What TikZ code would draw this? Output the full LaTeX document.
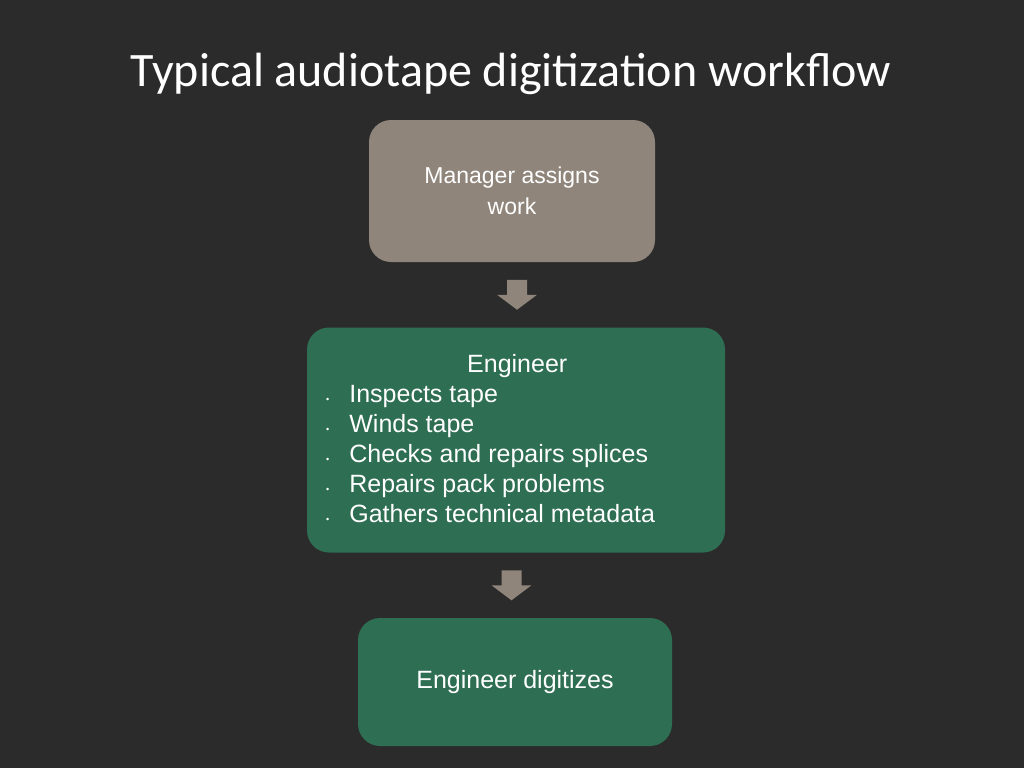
\documentclass[tikz,border=0pt]{standalone}
\usepackage{fontspec}
\setmainfont{Liberation Sans}
\newfontfamily\titlefont{Carlito}
\usetikzlibrary{calc}
\definecolor{bgdark}{HTML}{2B2B2B}
\definecolor{taupe}{HTML}{8F857B}
\definecolor{boxgreen}{HTML}{2E6E52}
\tikzset{
  stepbox/.style={rounded corners=22pt, text=white, align=center, font=\fontsize{25}{31}\selectfont},
  blockarr/.style={fill=taupe, draw=none}
}
\newcommand{\blockdown}[1]{%
  \fill[blockarr] ($(#1)+(-10,-15)$) -- ($(#1)+(10,-15)$) -- ($(#1)+(10,0)$) -- ($(#1)+(20,0)$)
    -- ($(#1)+(0,15)$) -- ($(#1)+(-20,0)$) -- ($(#1)+(-10,0)$) -- cycle;}
\begin{document}
\begin{tikzpicture}[x=1pt,y=-1pt]

		\fill[bgdark] (0,0) rectangle (1024,768);
		\useasboundingbox (0,0) rectangle (1024,768);

		\node[text=white, font=\titlefont\fontsize{48}{56}\selectfont] (title) at (511,74) {Typical audiotape digitization workflow};

		\node[stepbox, fill=taupe, minimum width=286pt, minimum height=142pt, font=\fontsize{23}{31}\selectfont] (manager) at (512,191) {Manager assigns\\work};

		\node[stepbox, fill=boxgreen, minimum width=418pt, minimum height=225pt] (inspect) at (516,440) {};
		\node[text=white, font=\fontsize{25}{31}\selectfont, anchor=north west, inner sep=0pt] (items) at (326,351)
		  {\begin{tabular}{@{}l@{\hspace{20pt}}l@{}}
		   \multicolumn{2}{@{}l@{}}{\hspace{141pt}Engineer}\\[-1pt]
		   {\small\textbullet} & Inspects tape\\[-1pt]
		   {\small\textbullet} & Winds tape\\[-1pt]
		   {\small\textbullet} & Checks and repairs splices\\[-1pt]
		   {\small\textbullet} & Repairs pack problems\\[-1pt]
		   {\small\textbullet} & Gathers technical metadata
		   \end{tabular}};

		\node[stepbox, fill=boxgreen, minimum width=314pt, minimum height=128pt] (digitize) at (515,682) {Engineer digitizes};

		\coordinate (arrA) at ($(manager.south)!0.5!(inspect.north)+(3,0)$);
		\coordinate (arrB) at ($(inspect.south)!0.5!(digitize.north)+(-4,0)$);
		\blockdown{arrA}
		\blockdown{arrB}

\end{tikzpicture}
\end{document}
